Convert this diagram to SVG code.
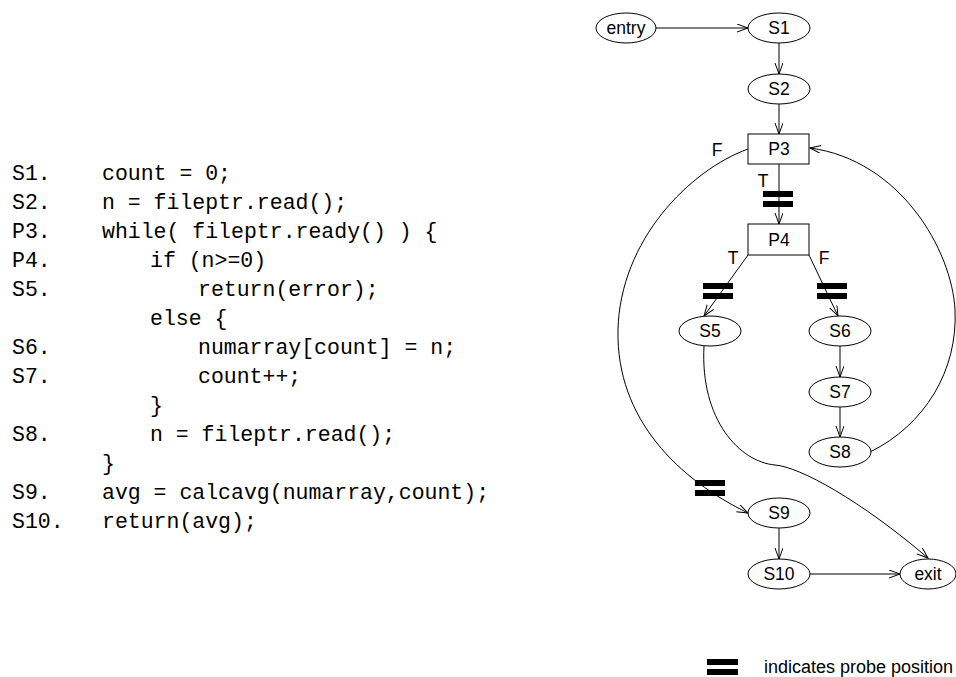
<svg xmlns="http://www.w3.org/2000/svg" width="956" height="677" viewBox="0 0 956 677">
<style>
.code{font-family:"Liberation Mono","Courier New",monospace;font-size:21.5px;fill:#000}
.lbl{font-family:"Liberation Sans",Arial,sans-serif;font-size:17.5px;fill:#000;text-anchor:middle}
.leg{font-family:"Liberation Sans",Arial,sans-serif;font-size:18px;fill:#000}
.node{fill:#fff;stroke:#000;stroke-width:1}
.edge{fill:none;stroke:#000;stroke-width:1;marker-end:url(#arr)}
.probe{fill:#000}
</style>
<defs>
<marker id="arr" markerWidth="12" markerHeight="9" refX="11" refY="4" orient="auto" markerUnits="userSpaceOnUse">
<path d="M0,0 L11,4 L0,8" fill="none" stroke="#000" stroke-width="1"/>
</marker>
</defs>
<rect width="956" height="677" fill="#fff"/>
<g id="code">
<text class="code" x="12" y="180">S1.</text><text class="code" x="102" y="180">count = 0;</text>
<text class="code" x="12" y="209">S2.</text><text class="code" x="102" y="209">n = fileptr.read();</text>
<text class="code" x="12" y="238">P3.</text><text class="code" x="102" y="238">while( fileptr.ready() ) {</text>
<text class="code" x="12" y="267">P4.</text><text class="code" x="150" y="267">if (n&gt;=0)</text>
<text class="code" x="12" y="296">S5.</text><text class="code" x="198" y="296">return(error);</text>
<text class="code" x="150" y="325">else {</text>
<text class="code" x="12" y="354">S6.</text><text class="code" x="198" y="354">numarray[count] = n;</text>
<text class="code" x="12" y="383">S7.</text><text class="code" x="198" y="383">count++;</text>
<text class="code" x="150" y="412">}</text>
<text class="code" x="12" y="441">S8.</text><text class="code" x="150" y="441">n = fileptr.read();</text>
<text class="code" x="102" y="470">}</text>
<text class="code" x="12" y="499">S9.</text><text class="code" x="102" y="499">avg = calcavg(numarray,count);</text>
<text class="code" x="12" y="528">S10.</text><text class="code" x="102" y="528">return(avg);</text>
</g>
<g id="connectors">
<path class="edge" d="M656,28 L748,28"/>
<path class="edge" d="M779,43 L779,74"/>
<path class="edge" d="M779,104 L779,134"/>
<path class="edge" d="M779,164 L779,224"/>
<path class="edge" d="M748,255 L704,316"/>
<path class="edge" d="M809,255 L838,316"/>
<path class="edge" d="M840,346 L840,377"/>
<path class="edge" d="M840,407 L840,437"/>
<path class="edge" d="M870,452 C925,425 958,370 955,310 C952,250 900,160 810,148"/>
<path class="edge" d="M748,149 C690,170 620,240 618,330 C616,420 680,480 748,513"/>
<path class="edge" d="M704,346 C700,420 740,462 775,465 C800,467 860,500 928,558"/>
<path class="edge" d="M779,528 L779,559"/>
<path class="edge" d="M810,574 L900,574"/>
</g>
<g id="probes">
<rect class="probe" x="763" y="191" width="30" height="6"/>
<rect class="probe" x="763" y="201" width="30" height="6"/>
<rect class="probe" x="703" y="283" width="30" height="6"/>
<rect class="probe" x="703" y="293" width="30" height="6"/>
<rect class="probe" x="817" y="283" width="30" height="6"/>
<rect class="probe" x="817" y="293" width="30" height="6"/>
<rect class="probe" x="695" y="480" width="30" height="6"/>
<rect class="probe" x="695" y="490" width="30" height="6"/>
</g>
<g id="edge-labels">
<text class="lbl" x="717" y="156">F</text>
<text class="lbl" x="763" y="187">T</text>
<text class="lbl" x="733" y="264">T</text>
<text class="lbl" x="824" y="264">F</text>
</g>
<g id="entry"><ellipse class="node" cx="626" cy="28" rx="30" ry="15"/><text class="lbl" x="626" y="34">entry</text></g>
<g id="S1"><ellipse class="node" cx="779" cy="28" rx="31" ry="15"/><text class="lbl" x="779" y="34">S1</text></g>
<g id="S2"><ellipse class="node" cx="779" cy="89" rx="31" ry="15"/><text class="lbl" x="779" y="95">S2</text></g>
<g id="P3"><rect class="node" x="748" y="134" width="61" height="30"/><text class="lbl" x="779" y="155">P3</text></g>
<g id="P4"><rect class="node" x="748" y="224" width="61" height="31"/><text class="lbl" x="779" y="246">P4</text></g>
<g id="S5"><ellipse class="node" cx="710" cy="331" rx="31" ry="15"/><text class="lbl" x="710" y="337">S5</text></g>
<g id="S6"><ellipse class="node" cx="840" cy="331" rx="31" ry="15"/><text class="lbl" x="840" y="337">S6</text></g>
<g id="S7"><ellipse class="node" cx="840" cy="392" rx="31" ry="15"/><text class="lbl" x="840" y="398">S7</text></g>
<g id="S8"><ellipse class="node" cx="840" cy="452" rx="31" ry="15"/><text class="lbl" x="840" y="458">S8</text></g>
<g id="S9"><ellipse class="node" cx="779" cy="513" rx="31" ry="15"/><text class="lbl" x="779" y="519">S9</text></g>
<g id="S10"><ellipse class="node" cx="779" cy="574" rx="31" ry="15"/><text class="lbl" x="779" y="580">S10</text></g>
<g id="exit"><ellipse class="node" cx="928" cy="574" rx="28" ry="15"/><text class="lbl" x="928" y="580">exit</text></g>
<g id="legend">
<rect class="probe" x="707" y="659" width="31" height="6"/>
<rect class="probe" x="707" y="669" width="31" height="6"/>
<text class="leg" x="764" y="673">indicates probe position</text>
</g>
</svg>
